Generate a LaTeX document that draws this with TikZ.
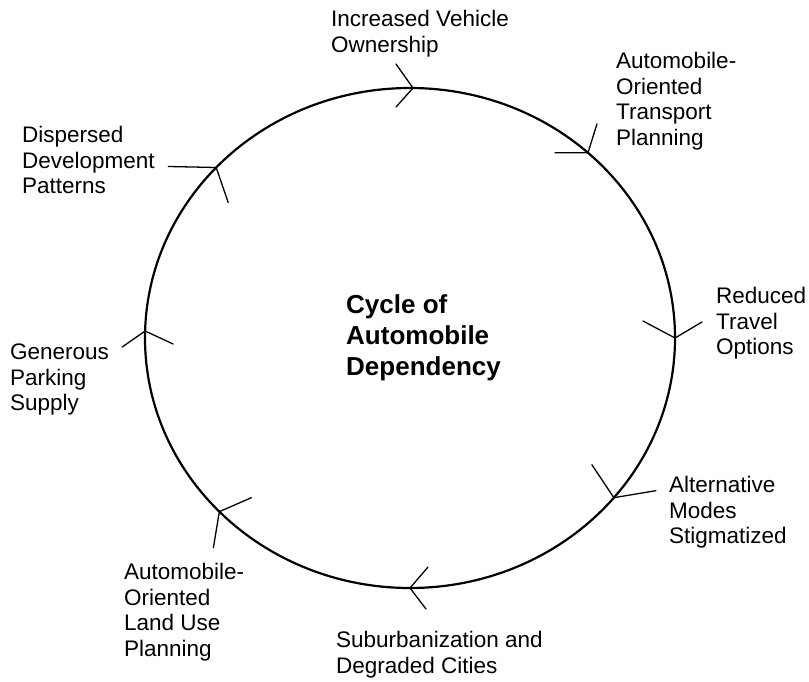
\documentclass[tikz,border=0pt]{standalone}
\usepackage{fontspec}
\setmainfont{Liberation Sans}
\usetikzlibrary{positioning}
\tikzset{
    cycleLine/.style={line width=2.2pt},
    barb/.style={line width=1.3pt, line cap=round},
    stageText/.style={anchor=north west, align=left, inner sep=0pt, font=\fontsize{22.5}{25.5}\selectfont},
    titleText/.style={anchor=north west, align=left, inner sep=0pt, font=\bfseries\fontsize{26}{31}\selectfont},
}
\newcommand{\drawBarbs}[3]{
    \draw[barb] (#1) ++(#2) -- (#1) -- ++(#3);
}

\begin{document}
\begin{tikzpicture}[x=1pt, y=-1pt]
        \useasboundingbox (0,0) rectangle (809,682);

        \coordinate (C) at (410,338);
        \draw[cycleLine] (C) ellipse [x radius=265, y radius=250];

        \foreach \ang [count=\i] in {-89.35,-47.8,0,39.7,90,136,181.6,-137} {
            \path (C) ++(\ang:265 and 250) coordinate (tip\i);
        }

        \drawBarbs{tip1}{-17,-24}{-17,19}
        \drawBarbs{tip2}{-33,0}{9,-29}
        \drawBarbs{tip3}{-32,-17}{27,-16}
        \drawBarbs{tip4}{-22,-33}{42,-7}
        \drawBarbs{tip5}{18,-21}{16,21}
        \drawBarbs{tip6}{32,-14}{-6,36}
        \drawBarbs{tip7}{-23,16}{28,13}
        \drawBarbs{tip8}{-48,-1}{12,35}

        \node[titleText] (title) at (346,294) {Cycle of\\Automobile\\Dependency};

        \node[stageText] (ownership) at (331,10) {Increased Vehicle\\Ownership};
        \node[stageText] (transport) at (616,52) {Automobile-\\Oriented\\Transport\\Planning};
        \node[stageText] (options) at (716,287) {Reduced\\ Travel\\Options};
        \node[stageText] (stigma) at (669,476) {Alternative\\Modes\\Stigmatized};
        \node[stageText] (suburb) at (336,631) {Suburbanization and\\Degraded Cities};
        \node[stageText] (landuse) at (124,563) {Automobile-\\Oriented\\Land Use\\Planning};
        \node[stageText] (parking) at (10,344) {Generous\\ Parking\\Supply};
        \node[stageText] (dispersed) at (22,126) {Dispersed\\Development\\Patterns};

    \end{tikzpicture}
\end{document}
